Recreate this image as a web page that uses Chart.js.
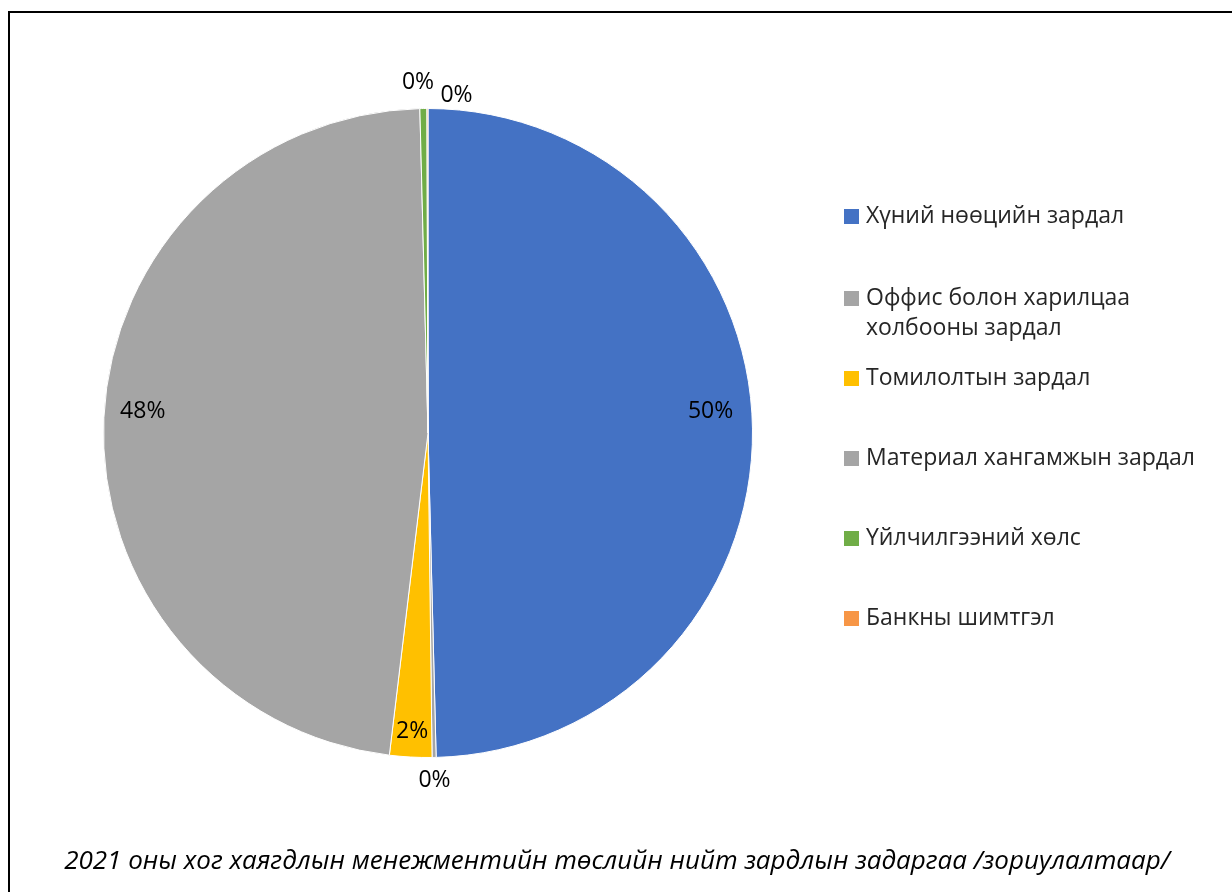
<!DOCTYPE html>
<html>
<head>
<meta charset="utf-8">
<script src="https://cdn.jsdelivr.net/npm/chart.js@4.4.1/dist/chart.umd.min.js"></script>
<style>
  html, body { margin: 0; padding: 0; background: #fff; }
  #wrap { width: 1232px; height: 892px; position: relative; }
</style>
</head>
<body>
<div id="wrap"><canvas id="pieChart" width="1232" height="892"></canvas></div>
<script>
const categories = [
  "Хүний нөөцийн зардал",
  "Оффис болон харилцаа холбооны зардал",
  "Томилолтын зардал",
  "Материал хангамжын зардал",
  "Үйлчилгээний хөлс",
  "Банкны шимтгэл"
];
const values = [49.6, 0.2, 2.1, 47.7, 0.35, 0.05];
const legendLines = [
  ["Хүний нөөцийн зардал"],
  ["Оффис болон харилцаа", "холбооны зардал"],
  ["Томилолтын зардал"],
  ["Материал хангамжын зардал"],
  ["Үйлчилгээний хөлс"],
  ["Банкны шимтгэл"]
];
const chartTitle = "2021 оны хог хаягдлын менежментийн төслийн нийт зардлын задаргаа /зориулалтаар/";

const colors = ["#4472C4", "#A5A5A5", "#FFC000", "#A5A5A5", "#70AD47", "#F79646"];

// label placement: radius factor along slice middle, plus small nudge (Excel "best fit")
const labelPlace = [
  { f: 0.88, dx: -3, dy: -18 },
  { f: 1.07, dx: 0, dy: 0 },
  { f: 0.92, dx: 0, dy: 0 },
  { f: 0.88, dx: 0, dy: -8 },
  { f: 1.08, dx: -5, dy: 0 },
  { f: 1.04, dx: 29, dy: 0 }
];

const framePlugin = {
  id: "frame",
  beforeDraw(chart) {
    const ctx = chart.ctx;
    ctx.save();
    ctx.fillStyle = "#fff";
    ctx.fillRect(0, 0, chart.width, chart.height);
    ctx.strokeStyle = "#000";
    ctx.lineWidth = 2;
    ctx.beginPath();
    ctx.moveTo(9, chart.height);
    ctx.lineTo(9, 12);
    ctx.lineTo(chart.width, 12);
    ctx.stroke();
    ctx.restore();
  }
};

const pieLabels = {
  id: "pieLabels",
  afterDatasetsDraw(chart) {
    const ctx = chart.ctx;
    const meta = chart.getDatasetMeta(0);
    const total = values.reduce((a, b) => a + b, 0);
    ctx.save();
    ctx.font = "23px 'Open Sans'";
    ctx.fillStyle = "#000";
    ctx.textAlign = "center";
    ctx.textBaseline = "middle";
    meta.data.forEach((arc, i) => {
      const p = arc.getProps(["x", "y", "startAngle", "endAngle", "outerRadius"], true);
      const mid = (p.startAngle + p.endAngle) / 2;
      const r = p.outerRadius * labelPlace[i].f;
      const x = p.x + Math.cos(mid) * r + labelPlace[i].dx;
      const y = p.y + Math.sin(mid) * r + labelPlace[i].dy;
      ctx.fillText(Math.round(values[i] / total * 100) + "%", x, y);
    });

    // legend
    const lx = 844, tx = 866;
    const rows = [216, 298, 378, 458, 538, 618];
    ctx.textAlign = "left";
    ctx.font = "23px 'Open Sans'";
    legendLines.forEach((lines, i) => {
      ctx.fillStyle = colors[i];
      ctx.fillRect(lx, rows[i] - 7, 15, 15);
      ctx.fillStyle = "#262626";
      lines.forEach((t, k) => ctx.fillText(t, tx, rows[i] + k * 30));
    });

    // title
    ctx.font = "italic 26px 'Open Sans'";
    ctx.fillStyle = "#000";
    ctx.textAlign = "center";
    ctx.fillText(chartTitle, 617, 862);
    ctx.restore();
  }
};

new Chart(document.getElementById("pieChart"), {
  type: "pie",
  data: {
    labels: categories,
    datasets: [{
      data: values,
      backgroundColor: colors,
      borderColor: "#ffffff",
      borderWidth: 1
    }]
  },
  options: {
    responsive: false,
    animation: false,
    layout: { padding: { top: 108, bottom: 134, left: 103, right: 479 } },
    plugins: {
      legend: { display: false },
      tooltip: { enabled: false }
    }
  },
  plugins: [framePlugin, pieLabels]
});
</script>
</body>
</html>
